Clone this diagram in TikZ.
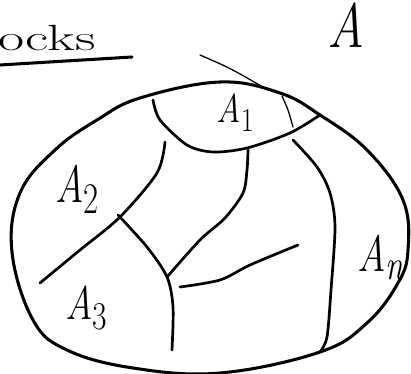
\documentclass[tikz,border=0pt]{standalone}
\tikzset{
  rim/.style={line width=2.6pt, line cap=round, line join=round},
  cut/.style={line width=2.3pt, line cap=round, line join=round},
  hair/.style={line width=1.1pt, line cap=round},
  setlab/.style={inner sep=0pt, anchor=base west, font=\Huge},
}
\newcommand{\blk}[3]{\scalebox{#1}[#2]{\textit{A}\textsubscript{#3}}}

\begin{document}
\begin{tikzpicture}[x=0.03cm, y=-0.03cm]
  \useasboundingbox (0,0) rectangle (411,374);
  % heading and the whole set
  \node[setlab] (head) at (-2,51) {\scalebox{1.95}[1.25]{ocks}};
  \draw[rim] (0,65) -- (132,57);
  \node[setlab] (whole) at (327,48) {\scalebox{1.75}[2.15]{\textit{A}}};
  % outline of A
  \draw[rim] plot[smooth cycle, tension=0.65] coordinates {
    (220,82) (280,93) (320,115) (367,150) (403,200) (408,250) (398,283)
    (367,323) (320,352) (220,373) (133,368) (67,350) (33,320) (12,252)
    (20,193) (55,150) (97,120) (140,98)};
  \draw[hair] (200,55) .. controls (230,68) .. (268,90);
  % the blocks
  \draw[cut] plot[smooth] coordinates {(153,100) (160,120) (187,145) (213,152) (247,148) (290,133) (320,115)};
  \draw[hair] plot[smooth] coordinates {(282,96) (288,110) (293,127)};
  \draw[cut] plot[smooth] coordinates {(293,140) (317,167) (330,193) (335,227) (331,290) (327,337) (320,352)};
  \draw[cut] plot[smooth] coordinates {(248,150) (247,170) (243,193) (225,218) (200,240) (167,277)};
  \draw[cut] plot[smooth] coordinates {(165,142) (157,173) (120,217) (80,250) (40,283)};
  \draw[cut] plot[smooth] coordinates {(118,215) (147,247) (167,277) (173,307) (172,350)};
  \draw[cut] plot[smooth] coordinates {(180,287) (220,280) (250,265) (298,245)};
  % labels
  \node[setlab] (a1) at (216,123) {\blk{1.16}{1.38}{1}};
  \node[setlab] (a2) at (55,203) {\blk{1.35}{1.8}{2}};
  \node[setlab] (a3) at (65,320) {\blk{1.3}{1.62}{3}};
  \node[setlab] (an) at (357,272) {\blk{1.35}{1.75}{\textit{n}}};
\end{tikzpicture}
\end{document}
